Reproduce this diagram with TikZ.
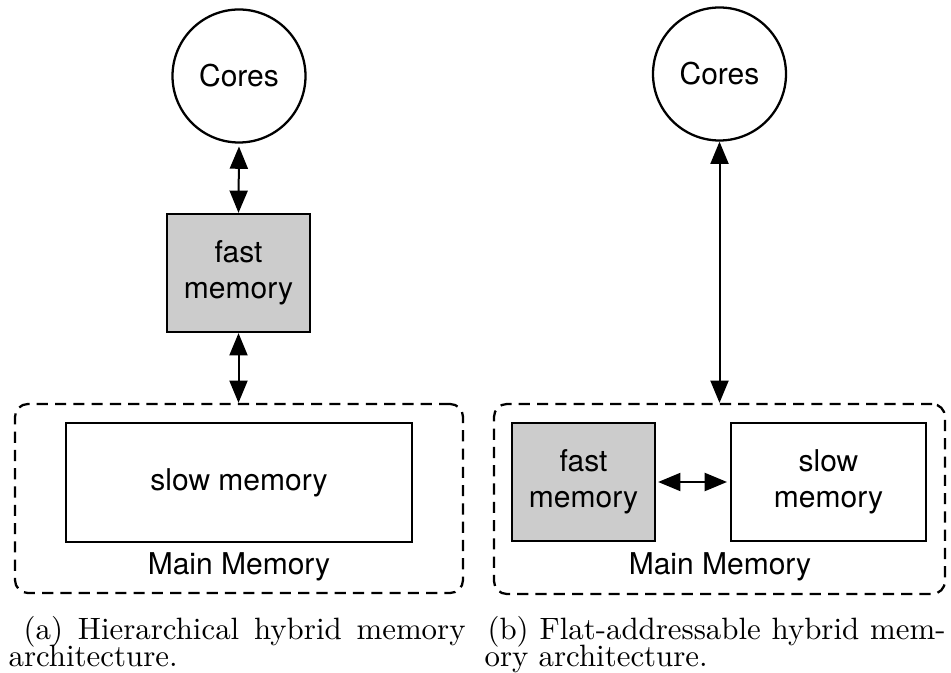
\documentclass[tikz,border=0pt]{standalone}
\usepackage{fontspec}
\newfontfamily\helv{TeX Gyre Heros}
\usetikzlibrary{arrows.meta}
% one drawing unit
\newdimen\px \px=0.35pt

\begin{document}
\begin{tikzpicture}[x=0.35pt, y=-0.35pt,
  lbl/.style={font=\helv\fontsize{10.5}{12.4}\selectfont, align=center},
  corenode/.style={circle, draw, line width=0.8pt, minimum size=133\px, inner sep=0pt, lbl},
  membox/.style={rectangle, draw, line width=0.8pt, inner sep=0pt, lbl},
  fastbox/.style={membox, fill=black!20},
  mainbox/.style={rectangle, draw, line width=0.8pt, dash pattern=on 3.9pt off 2.5pt,
                  rounded corners=4.5pt, inner sep=0pt},
  biarrow/.style={line width=0.7pt,
                  {Triangle[length=7.8pt,width=6.3pt]}-{Triangle[length=7.8pt,width=6.3pt]}},
  capt/.style={font=\fontsize{10.8}{12}\selectfont, inner sep=0pt, anchor=base west}]
\useasboundingbox (0,0) rectangle (951,673);

% ---- (a) hierarchical ----
\node[corenode] (coresA) at (239,76) {Cores};
\node[fastbox, minimum width=143\px, minimum height=118\px] (fastA) at (238.5,273) {fast\\memory};
\node[mainbox, minimum width=448\px, minimum height=189\px] (mainA) at (239,498.5) {};
\node[membox, minimum width=346\px, minimum height=119\px] (slowA) at (239,482.5) {slow memory};
\node[lbl, anchor=base, inner sep=0pt] (mmA) at (239,575) {Main Memory};

\draw[biarrow, shorten <=1pt] (coresA.south) -- (fastA.north);
\draw[biarrow] (fastA.south) -- (fastA.south |- mainA.north);

\node[capt] (capA1) at (23,639) {\makebox[442\px][s]{(a) Hierarchical hybrid memory}};
\node[capt] (capA2) at (8,666) {architecture.};

% ---- (b) flat-addressable ----
\node[corenode] (coresB) at (719.5,74) {Cores};
\node[mainbox, minimum width=451\px, minimum height=190\px] (mainB) at (719.5,499) {};
\node[fastbox, minimum width=143\px, minimum height=118\px] (fastB) at (583.5,482) {fast\\memory};
\node[membox, minimum width=195\px, minimum height=118\px] (slowB) at (828.5,482) {slow\\memory};
\node[lbl, anchor=base, inner sep=0pt] (mmB) at (720,575) {Main Memory};

\draw[biarrow] (coresB.south) -- (coresB.south |- mainB.north);
\draw[biarrow, shorten <=0.7pt, shorten >=1pt] (fastB.east) -- (slowB.west);

\node[capt] (capB1) at (487,639) {\makebox[458\px][s]{(b) Flat-addressable hybrid mem-}};
\node[capt] (capB2) at (484,666) {ory architecture.};
\end{tikzpicture}
\end{document}
